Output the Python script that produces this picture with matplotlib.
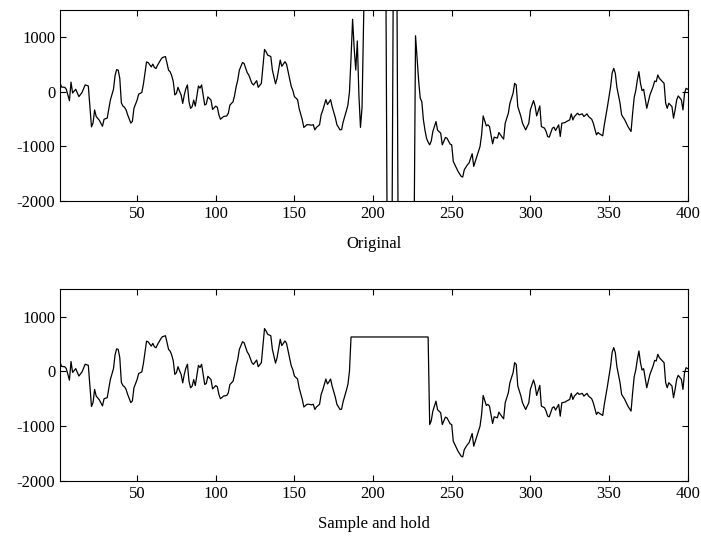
import numpy as np
import matplotlib
matplotlib.use("Agg")
import matplotlib.pyplot as plt

plt.rcParams['font.family'] = ['Liberation Serif', 'DejaVu Serif']
plt.rcParams['font.size'] = 12
plt.rcParams['axes.unicode_minus'] = False

# sample index / amplitude
# (values of +-3000 are the clipped burst, they run off the axes)
n = [1, 2, 4, 5, 7, 8, 9, 11, 13, 15, 17, 19, 21, 22, 23, 24, 26, 28, 29, 31,
     33, 35, 36, 37, 38, 39, 40, 41, 42, 43, 44, 46, 47, 48, 50, 51, 53, 54, 56, 57,
     58, 59, 60, 61, 62, 63, 65, 66, 68, 69, 70, 71, 72, 73, 74, 75, 76, 77, 78, 79,
     80, 81, 82, 83, 84, 85, 86, 87, 89, 90, 91, 92, 93, 94, 95, 97, 98, 100, 101, 102,
     103, 105, 107, 108, 109, 111, 112, 113, 114, 115, 117, 118, 120, 121, 123, 124, 126, 127, 129, 131,
     132, 133, 135, 136, 138, 139, 141, 142, 144, 145, 146, 148, 149, 150, 152, 153, 155, 156, 158, 159,
     161, 162, 163, 164, 166, 167, 168, 169, 170, 171, 172, 173, 174, 176, 177, 179, 180, 181, 183, 184,
     185, 186, 187, 188, 189, 190, 191, 192, 193, 194, 195, 208, 209, 212, 213, 215, 216, 226, 227, 228,
     229, 230, 231, 232, 233, 234, 235, 236, 237, 238, 240, 241, 243, 244, 246, 247, 249, 250, 251, 253,
     254, 256, 257, 258, 260, 261, 263, 264, 266, 268, 269, 270, 272, 273, 274, 276, 277, 279, 280, 282,
     283, 284, 286, 287, 289, 290, 291, 292, 294, 295, 297, 299, 300, 302, 303, 304, 306, 307, 309, 310,
     311, 312, 314, 315, 316, 318, 319, 320, 322, 323, 325, 326, 327, 328, 330, 331, 333, 334, 336, 337,
     339, 340, 342, 343, 344, 346, 347, 349, 351, 352, 353, 354, 355, 357, 358, 360, 362, 364, 365, 366,
     367, 368, 369, 370, 371, 372, 374, 375, 376, 378, 379, 380, 381, 382, 383, 385, 386, 387, 388, 390,
     391, 392, 393, 394, 396, 397, 398, 399, 400]
x = [170, 90, 85, 50, -160, 180, -20, 50, -85, -10, 130, 110, -640, -570, -330, -450, -520, -630, -500, -480,
     -150, 50, 300, 410, 400, 250, -200, -260, -280, -330, -420, -570, -540, -300, -150, -40, -10, 140, 550, 540,
     500, 460, 510, 450, 430, 490, 590, 630, 650, 530, 400, 370, 300, 190, -55, -25, 85, 10, -55, -210,
     -55, 60, 130, -180, -300, -270, -150, -260, 110, 70, 130, -55, -240, -220, -90, -150, -320, -260, -280, -420,
     -500, -450, -440, -390, -240, -180, -60, 100, 220, 400, 540, 524, 354, 311, 158, 128, 207, 85, 158, 780,
     737, 676, 650, 402, 150, 250, 585, 470, 555, 510, 372, 100, 30, -85, -140, -300, -510, -650, -600, -600,
     -610, -600, -695, -650, -600, -420, -340, -240, -140, -230, -190, -140, -270, -470, -600, -695, -690, -550, -350, -240,
     0, 627, 1334, 800, 402, 935, -55, -650, -280, 1300, 3000, 3000, -3000, -3000, 3000, 3000, -3000, -3000, 1030, 615,
     200, -116, -177, -512, -700, -850, -920, -970, -900, -726, -543, -700, -756, -970, -835, -848, -957, -970, -1274, -1396,
     -1456, -1548, -1560, -1426, -1335, -1304, -1133, -1365, -1182, -999, -786, -439, -622, -603, -634, -951, -829, -847, -744, -829,
     -865, -573, -390, -207, -24, 158, 128, -268, -451, -573, -695, -573, -329, -158, -256, -439, -256, -634, -664, -725,
     -817, -829, -664, -646, -707, -603, -817, -573, -561, -542, -512, -402, -512, -451, -390, -420, -402, -451, -402, -451,
     -500, -573, -786, -744, -768, -804, -603, -268, 97, 350, 433, 341, 85, -207, -420, -512, -634, -725, -390, -100,
     24, 219, 372, 158, 24, 49, -299, -177, -55, 97, 201, 189, 311, 250, 219, 158, -207, -299, -207, -268,
     -481, -329, -146, -73, -146, -329, -24, 67, 50]

hold_start, hold_end = 186, 235

n = np.array(n)
x = np.array(x, dtype=float)
held = x.copy()
mask = (n >= hold_start) & (n <= hold_end)
held[mask] = x[n == hold_start][0]

fig = plt.figure(figsize=(7.01, 5.36), dpi=100)
ax1 = fig.add_axes([0.0856, 0.625, 0.8954, 0.356])
ax2 = fig.add_axes([0.0856, 0.1026, 0.8954, 0.358])

for ax, y, lab in [(ax1, x, "Original"), (ax2, held, "Sample and hold")]:
    ax.plot(n, y, color="k", lw=0.9)
    ax.set_xlim(1, 400)
    ax.set_ylim(-2000, 1500)
    ax.set_xticks(range(50, 401, 50))
    ax.set_yticks([-2000, -1000, 0, 1000])
    ax.tick_params(direction="in", top=True, right=True, length=4, width=0.8)
    for s in ax.spines.values():
        s.set_linewidth(0.8)
    ax.set_xlabel(lab, labelpad=10)

plt.savefig("out.png", dpi=100)
